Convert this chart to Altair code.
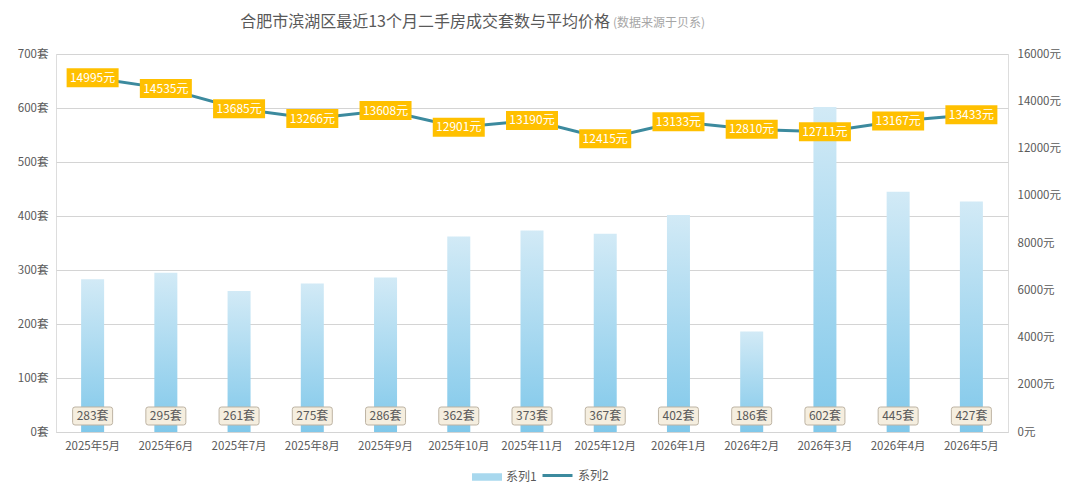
import altair as alt
import pandas as pd

months = ["2025年5月", "2025年6月", "2025年7月", "2025年8月", "2025年9月", "2025年10月",
          "2025年11月", "2025年12月", "2026年1月", "2026年2月", "2026年3月", "2026年4月", "2026年5月"]
counts = [283, 295, 261, 275, 286, 362, 373, 367, 402, 186, 602, 445, 427]
prices = [14995, 14535, 13685, 13266, 13608, 12901, 13190, 12415, 13133, 12810, 12711, 13167, 13433]
series_names = ["系列1", "系列2"]
left_ticks = [0, 100, 200, 300, 400, 500, 600, 700]
right_ticks = [0, 2000, 4000, 6000, 8000, 10000, 12000, 14000, 16000]
title_main = "合肥市滨湖区最近13个月二手房成交套数与平均价格"
title_sub = "(数据来源于贝系)"

FONT = "Noto Sans CJK SC"
GRAY = "#595959"

df = pd.DataFrame({"month": months, "count": counts, "price": prices,
                   "s1": [series_names[0]] * len(months),
                   "s2": [series_names[1]] * len(months)})

base = alt.Chart(df)

x = alt.X("month:N", sort=months,
          scale=alt.Scale(paddingInner=0, paddingOuter=0),
          axis=alt.Axis(title=None, labelAngle=0, labelFontSize=11.5, labelColor=GRAY,
                        labelPadding=8, ticks=False, domainColor="#D4D4D4", labelFont=FONT))

bar_grad = alt.Gradient(gradient="linear",
                        stops=[alt.GradientStop(color="#80C8EA", offset=0),
                               alt.GradientStop(color="#D2EAF6", offset=1)],
                        x1=1, x2=1, y1=1, y2=0)

ycount = alt.Y("count:Q", scale=alt.Scale(domain=[0, 700], nice=False),
               axis=alt.Axis(values=left_ticks, labelExpr="datum.value + '套'", title=None,
                             grid=True, gridColor="#D4D4D4", domain=False, ticks=False,
                             labelPadding=8, labelFontSize=11.5, labelColor=GRAY, labelFont=FONT))

bars = base.mark_bar(size=23, color=bar_grad).encode(x=x, y=ycount)

# invisible twin of the bars, only to produce the "系列1" legend entry
bars_legend = base.mark_bar(size=23, opacity=0).encode(
    x=x, y=ycount,
    fill=alt.Fill("s1:N", scale=alt.Scale(domain=[series_names[0]], range=["#A8D8EE"]),
                  legend=alt.Legend(orient="none", legendX=416, legendY=408, title=None,
                                    symbolType="M-1,-0.25H1V0.25H-1Z", symbolSize=900,
                                    symbolOpacity=1, symbolStrokeWidth=0,
                                    labelFontSize=12, labelColor=GRAY, labelFont=FONT,
                                    labelOffset=4)))

ROUND_BOX = ("M-0.88,-0.45 H0.88 Q1,-0.45 1,-0.33 V0.33 Q1,0.45 0.88,0.45 H-0.88 "
             "Q-1,0.45 -1,0.33 V-0.33 Q-1,-0.45 -0.88,-0.45 Z")

barbox = base.mark_point(shape=ROUND_BOX, filled=True, fill="#F5EEDF", stroke="#BDB3A3",
                         strokeWidth=1, size=1600, opacity=1, yOffset=-16).encode(
    x=x, y=alt.datum(0))

bartext = base.transform_calculate(lbl="datum.count + '套'").mark_text(
    font=FONT, fontSize=12, color=GRAY, yOffset=-16).encode(
    x=x, y=alt.datum(0), text="lbl:N")

left = alt.layer(bars, bars_legend, barbox, bartext)

line = base.mark_line(strokeWidth=3).encode(
    x=x,
    y=alt.Y("price:Q", scale=alt.Scale(domain=[0, 16000], nice=False),
            axis=alt.Axis(orient="right", values=right_ticks, labelExpr="datum.value + '元'",
                          title=None, grid=False, domain=False, ticks=False, labelPadding=9,
                          labelFontSize=11.5, labelColor=GRAY, labelFont=FONT)),
    stroke=alt.Stroke("s2:N", scale=alt.Scale(domain=[series_names[1]], range=["#3C8A9E"]),
                      legend=alt.Legend(orient="none", legendX=485, legendY=405, title=None,
                                        symbolType="stroke", symbolSize=900,
                                        symbolStrokeWidth=3,
                                        labelFontSize=12, labelColor=GRAY, labelFont=FONT,
                                        labelOffset=4)))

pbox = base.mark_point(shape="M-1,-0.365H1V0.365H-1Z", filled=True, fill="#FFC000",
                       size=2704, opacity=1, strokeWidth=0).encode(x=x, y="price:Q")

ptext = base.transform_calculate(lbl="datum.price + '元'").mark_text(
    font=FONT, fontSize=12, color="white").encode(x=x, y="price:Q", text="lbl:N")

right = alt.layer(line, pbox, ptext)

t1 = alt.Chart(pd.DataFrame({"t": [title_main]})).mark_text(
    font=FONT, fontSize=16, color=GRAY, align="right", baseline="middle").encode(
    x=alt.value(554), y=alt.value(-32), text="t:N")
t2 = alt.Chart(pd.DataFrame({"t": [title_sub]})).mark_text(
    font=FONT, fontSize=12, color="#A6A6A6", align="left", baseline="middle").encode(
    x=alt.value(557), y=alt.value(-31), text="t:N")

chart = alt.layer(left, right, t1, t2).resolve_scale(y="independent").properties(
    width=952, height=378,
    autosize=alt.AutoSizeParams(type="none"),
    padding={"left": 48, "top": 46, "right": 64, "bottom": 58},
    background="white",
).configure_view(stroke=None).configure(font=FONT)

chart.save("out.html", embed_options={"renderer": "svg", "actions": False})
